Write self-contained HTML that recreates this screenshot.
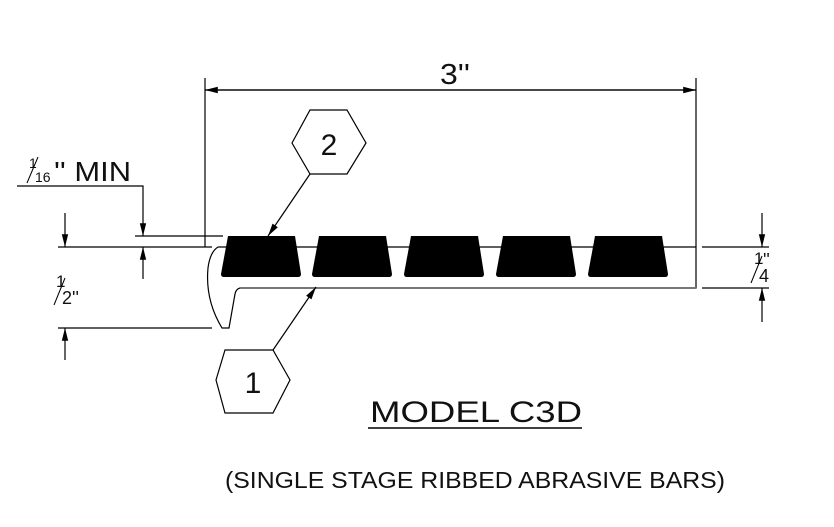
<!DOCTYPE html>
<html><head><style>
html,body{margin:0;padding:0;background:#fff;}
svg{display:block;}
text{font-family:"Liberation Sans",sans-serif;fill:#111;}
</style></head><body>
<svg width="834" height="527" viewBox="0 0 834 527" xmlns="http://www.w3.org/2000/svg">
<defs>
<marker id="b" viewBox="0 0 16 10" refX="16" refY="5" markerWidth="17" markerHeight="8" markerUnits="userSpaceOnUse" orient="auto"><path d="M0,1 L16,5 L0,9 Z" fill="#000"/></marker>
</defs>
<g stroke="#000" stroke-width="1.2" fill="none">
<line x1="205" y1="78" x2="205" y2="247"/>
<line x1="696" y1="78" x2="696" y2="247"/>
<line x1="205" y1="90" x2="696" y2="90" marker-end="url(#b)"/>
<line x1="696" y1="90" x2="205" y2="90" marker-end="url(#b)"/>
<polyline points="17,186 143,186 143,236" marker-end="url(#b)"/>
<line x1="143" y1="279" x2="143" y2="247" marker-end="url(#b)"/>
<line x1="135" y1="236" x2="223" y2="236"/>
<line x1="58" y1="247" x2="212" y2="247"/>
<line x1="65" y1="213" x2="65" y2="247" marker-end="url(#b)"/>
<line x1="58" y1="328" x2="212" y2="328"/>
<line x1="65" y1="360" x2="65" y2="328" marker-end="url(#b)"/>
<line x1="702" y1="247" x2="769" y2="247"/>
<line x1="702" y1="288" x2="769" y2="288"/>
<line x1="762" y1="213" x2="762" y2="247" marker-end="url(#b)"/>
<line x1="762" y1="322" x2="762" y2="288" marker-end="url(#b)"/>
<path d="M218,247 L696,247 L696,288 L240,288 Q236,289 235,294 L229,328 L222,328 Q205,300 208,268 Q210,252 218,247"/>
<path d="M240,288 L696,288" stroke="#777" stroke-width="2"/>
<polygon points="292,143 310,110 347,110 366,143 347,174 310,174"/>
<polygon points="216,380 225,350 273,350 290,380 273,413 225,413"/>
<line x1="310" y1="174" x2="268" y2="236" marker-end="url(#b)"/>
<line x1="273" y1="350" x2="316" y2="287" marker-end="url(#b)"/>
</g>
<g fill="#000">
<path d="M228,236 L295,236 L301,274 Q301,277 298,277 L224,277 Q221,277 221,274 Z"/>
<path d="M319,236 L386,236 L392,274 Q392,277 389,277 L315,277 Q312,277 312,274 Z"/>
<path d="M411,236 L478,236 L484,274 Q484,277 481,277 L407,277 Q404,277 404,274 Z"/>
<path d="M503,236 L570,236 L576,274 Q576,277 573,277 L499,277 Q496,277 496,274 Z"/>
<path d="M595,236 L662,236 L668,274 Q668,277 665,277 L591,277 Q588,277 588,274 Z"/>
</g>
<text x="440" y="84" font-size="29" textLength="30" lengthAdjust="spacingAndGlyphs">3''</text>
<text x="329" y="155" font-size="30" text-anchor="middle">2</text>
<text x="253" y="393" font-size="30" text-anchor="middle">1</text>
<text x="29" y="168" font-size="14">1</text>
<line x1="27" y1="183" x2="38" y2="157" stroke="#000" stroke-width="1"/>
<text x="35" y="182" font-size="14">16</text>
<text x="54" y="181" font-size="28" textLength="77" lengthAdjust="spacingAndGlyphs">'' MIN</text>
<text x="56" y="287" font-size="17">1</text>
<line x1="54" y1="305" x2="65" y2="278" stroke="#000" stroke-width="1"/>
<text x="62" y="304" font-size="18">2''</text>
<text x="754" y="264" font-size="17">1</text>
<line x1="751" y1="283" x2="762" y2="256" stroke="#000" stroke-width="1"/>
<text x="759" y="282" font-size="18">4</text>
<text x="763" y="266" font-size="18">''</text>
<text x="370" y="422" font-size="30" textLength="212" lengthAdjust="spacingAndGlyphs">MODEL C3D</text>
<line x1="368" y1="428" x2="582" y2="428" stroke="#000" stroke-width="1.5"/>
<text x="225" y="488" font-size="23" textLength="500" lengthAdjust="spacingAndGlyphs">(SINGLE STAGE RIBBED ABRASIVE BARS)</text>
</svg>
</body></html>
